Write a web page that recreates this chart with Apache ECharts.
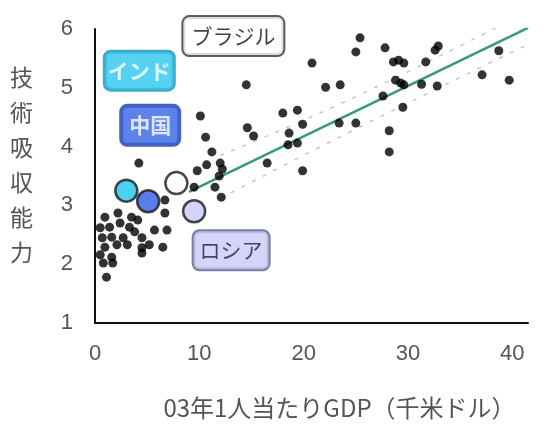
<!DOCTYPE html>
<html>
<head>
<meta charset="utf-8">
<script src="https://cdn.jsdelivr.net/npm/echarts@6/dist/echarts.min.js"></script>
<style>
  html, body { margin: 0; padding: 0; background: #fff; }
  #main { width: 545px; height: 432px; }
</style>
</head>
<body>
<div id="main"></div>
<script>
// 各国の点 (x: 03年1人当たりGDP 千米ドル, y: 技術吸収能力)
var dotX = [14.5, 25.4, 25.0, 27.8, 20.8, 28.6, 29.1, 29.6, 31.7, 32.6, 32.9, 38.7,
  22.1, 23.5, 28.8, 29.3, 29.6, 31.3, 32.8, 37.1, 39.7, 27.6, 29.5, 28.2, 28.2,
  18.0, 19.4, 19.9, 18.6, 18.5, 19.4, 23.4, 25.0, 16.5, 19.9, 14.6, 15.2,
  10.1, 10.6, 11.2, 10.7, 12.0, 12.2, 9.8, 11.9, 9.5, 11.5, 12.1, 4.2, 6.7, 6.7,
  0.95, 2.2, 3.5, 4.1, 0.5, 1.4, 2.4, 3.3, 3.8, 5.7, 6.9, 0.7, 1.6, 2.7, 4.5,
  5.2, 6.5, 0.95, 2.1, 3.1, 4.5, 0.5, 1.6, 4.5, 0.8, 1.7, 1.1];
var dotY = [5.05, 5.85, 5.61, 5.68, 5.42, 5.44, 5.47, 5.42, 5.44, 5.64, 5.71, 5.63,
  5.01, 5.05, 5.13, 5.08, 5.05, 5.06, 5.03, 5.22, 5.13, 4.86, 4.67, 4.27, 3.91,
  4.57, 4.62, 4.38, 4.23, 4.03, 4.06, 4.40, 4.40, 3.72, 3.59, 4.32, 4.18,
  4.52, 4.16, 3.91, 3.69, 3.72, 3.62, 3.59, 3.50, 3.31, 3.31, 3.14, 3.72, 3.09, 2.87,
  2.80, 2.87, 2.80, 2.75, 2.62, 2.63, 2.70, 2.63, 2.55, 2.58, 2.58, 2.45, 2.46, 2.45, 2.45,
  2.33, 2.29, 2.29, 2.33, 2.33, 2.28, 2.16, 2.12, 2.19, 2.02, 2.02, 1.78];

// 注目国
var countryNames = ["インド", "中国", "ブラジル", "ロシア"];
var countryX = [3.0, 5.1, 7.8, 9.5];
var countryY = [3.25, 3.07, 3.38, 2.90];

// 回帰線と信頼区間
var trendX = [9, 41.5];
var trendY = [3.23, 6.02];
var bandX = [12, 25, 41.5];
var bandUpper = [3.85, 4.85, 6.30];
var bandLower = [3.12, 4.30, 5.74];

var xTicks = [0, 10, 20, 30, 40];
var yTicks = [1, 2, 3, 4, 5, 6];

var jp = '"Noto Sans CJK JP", sans-serif';
var numFont = '"Liberation Sans", Arial, sans-serif';

function zip(xs, ys) {
  return xs.map(function (x, i) { return [x, ys[i]]; });
}

// 国ごとの見た目 (色・ラベル位置)
var countryStyle = {
  "インド": { color: "#22c4ee", bg: "#2cc6ee", text: "#fff", border: "#1a90b0", offset: [13, -120], bold: true, pad: [9, 3, 8, 3] },
  "中国": { color: "#2f5de6", bg: "#3563e3", text: "#fff", border: "#20399c", offset: [2, -76], bold: true, pad: [9, 8, 9, 8] },
  "ブラジル": { color: "#ffffff", bg: "#ffffff", text: "#111", border: "#333", offset: [57, -147], bold: false, pad: [9, 8, 8, 8] },
  "ロシア": { color: "#c9c9f6", bg: "#cbcbf7", text: "#1d2050", border: "#5a5a8a", offset: [37, 39], bold: false, pad: [9, 6, 8, 6] }
};

var countryData = countryNames.map(function (n, i) {
  var s = countryStyle[n];
  return {
    name: n,
    value: [countryX[i], countryY[i]],
    itemStyle: { color: s.color, borderColor: "#1a1a1a", borderWidth: 2.5 },
    label: {
      show: true,
      position: "inside",
      offset: s.offset,
      formatter: n,
      color: s.text,
      fontFamily: jp,
      fontSize: 21,
      fontWeight: s.bold ? "bold" : "normal",
      backgroundColor: s.bg,
      borderColor: s.border,
      borderWidth: 2,
      borderRadius: 6,
      padding: s.pad
    }
  };
});

var myChart = echarts.init(document.getElementById("main"));
var option = {
  backgroundColor: "#fff",
  animation: false,
  grid: {
    left: 95,
    right: 17,
    top: 29,
    bottom: 109
  },
  xAxis: {
    type: "value",
    min: 0,
    max: 41.5,
    interval: 10,
    name: "03年1人当たりGDP（千米ドル）",
    nameLocation: "middle",
    nameGap: 73,
    nameTextStyle: {
      fontFamily: jp,
      fontSize: 24,
      color: "#555",
      padding: [0, 0, 0, 56]
    },
    axisLine: { lineStyle: { color: "#111", width: 2 } },
    axisTick: { show: false },
    splitLine: { show: false },
    axisLabel: {
      margin: 20,
      fontFamily: numFont,
      fontSize: 22,
      color: "#555",
      formatter: function (v) { return xTicks.indexOf(v) >= 0 ? String(v) : ""; }
    }
  },
  yAxis: {
    type: "value",
    min: 1,
    max: 6,
    interval: 1,
    // 最後の空行で名前を少し上へずらす
    name: "技\n術\n吸\n収\n能\n力\n{s| }",
    nameLocation: "middle",
    nameRotate: 0,
    nameGap: 62,
    nameTextStyle: {
      fontFamily: jp,
      fontSize: 23,
      lineHeight: 35,
      color: "#555",
      rich: {
        s: { fontSize: 10, lineHeight: 22 }
      }
    },
    axisLine: { show: true, lineStyle: { color: "#111", width: 2 } },
    axisTick: { show: false },
    splitLine: { show: false },
    axisLabel: {
      margin: 22,
      fontFamily: numFont,
      fontSize: 22,
      color: "#555",
      formatter: function (v) { return yTicks.indexOf(v) >= 0 ? String(v) : ""; }
    }
  },
  series: [
    {
      type: "line",
      data: zip(bandX, bandUpper),
      smooth: true,
      symbol: "none",
      lineStyle: { color: "#c4c4c4", width: 1.5, type: [4, 8] },
      z: 1
    },
    {
      type: "line",
      data: zip(bandX, bandLower),
      smooth: true,
      symbol: "none",
      lineStyle: { color: "#c4c4c4", width: 1.5, type: [4, 8] },
      z: 1
    },
    {
      type: "line",
      data: zip(trendX, trendY),
      symbol: "none",
      lineStyle: { color: "#3a9a74", width: 2.5 },
      z: 2
    },
    {
      type: "scatter",
      data: zip(dotX, dotY),
      symbolSize: 9,
      itemStyle: { color: "#000" },
      z: 3
    },
    {
      type: "scatter",
      data: countryData,
      symbolSize: 22,
      z: 4
    }
  ]
};
myChart.setOption(option);
</script>
</body>
</html>
